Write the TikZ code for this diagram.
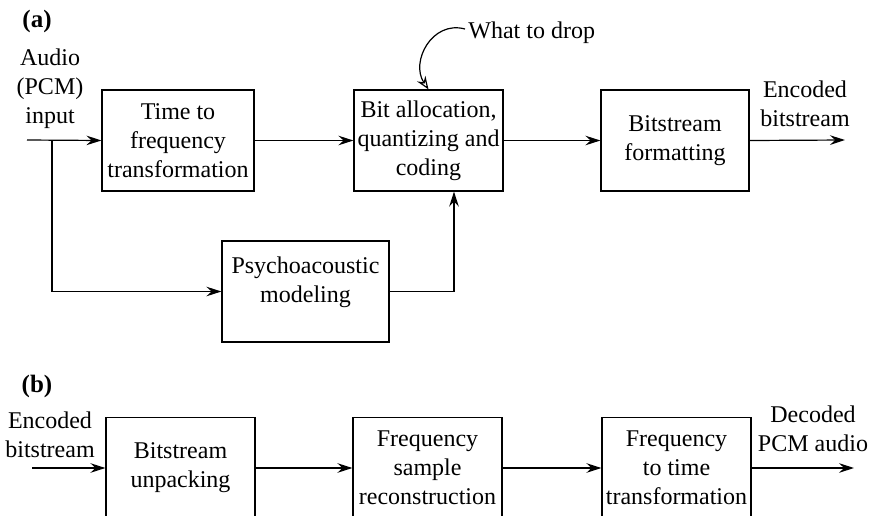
\documentclass[tikz,border=0pt]{standalone}
\usepackage{fontspec}
\setmainfont{Liberation Serif}
\usetikzlibrary{arrows.meta}
\begin{document}
\begin{tikzpicture}[x=0.5pt,y=-0.5pt,
  every node/.style={font=\fontsize{12}{14.6}\selectfont, align=center, inner sep=0pt},
  blk/.style={draw, line width=0.6pt, minimum height=50.5pt},
  arr/.style={line width=0.6pt, -{Stealth[length=7.5pt,width=4.8pt,inset=2.6pt]}},
  hollow/.style={line width=0.6pt, -{Stealth[open,length=6.5pt,width=5pt,inset=2.2pt]}},
  lbl/.style={font=\fontsize{12.5}{14.6}\selectfont\bfseries}]
\path[use as bounding box] (0,0) rectangle (874,515);
\clip (0,0) rectangle (874,515);
% (a)
\node[lbl] (la) at (37,21) {(a)};
\node (ain) at (50,89) {Audio\\(PCM)\\input};
\node[blk, minimum width=76pt] (A1) at (178,140.5) {Time to\\frequency\\transformation};
\node[blk, minimum width=74.5pt] (A2) at (428.5,140.5) {Bit allocation,\\quantizing and\\coding};
\node[blk, minimum width=74pt] (A3) at (675,140.5) {Bitstream\\formatting};
\node[blk, minimum width=83.5pt] (P) at (305.5,291.5) {Psychoacoustic\\modeling\\[-3pt]};
\node (aout) at (805,103.5) {Encoded\\bitstream};
\node[anchor=west] (drop) at (468,33) {What to drop};
\coordinate (in) at (27,140);
\coordinate (br) at (52,140);
\coordinate (out) at (845,140);
\draw[arr] (in) -- (A1.west);
\draw[arr] (A1.east) -- (A2.west);
\draw[arr] (A2.east) -- (A3.west);
\draw[arr] (A3.east) -- (out);
\draw[arr] (br) |- (P.west);
\draw[arr] (P.east) -| ([xshift=12.75pt]A2.south);
\draw[hollow] ([xshift=-1.5pt,yshift=2pt]drop.west) .. controls (432,20) and (410,62) .. (A2.north);
% (b)
\node[lbl] (lb) at (37,386) {(b)};
\node (bin) at (50,435) {Encoded\\bitstream};
\node[blk, minimum width=74.5pt] (B1) at (180.5,468) {Bitstream\\unpacking};
\node[blk, minimum width=74.5pt] (B2) at (427.5,468) {Frequency\\sample\\reconstruction};
\node[blk, minimum width=74.5pt] (B3) at (676.5,468) {Frequency\\to time\\transformation};
\node (bout) at (813,428.5) {Decoded\\PCM audio};
\coordinate (bi) at (32,468);
\coordinate (bo) at (854,468);
\draw[arr] (bi) -- (B1.west);
\draw[arr] (B1.east) -- (B2.west);
\draw[arr] (B2.east) -- (B3.west);
\draw[arr] (B3.east) -- (bo);
\end{tikzpicture}
\end{document}
